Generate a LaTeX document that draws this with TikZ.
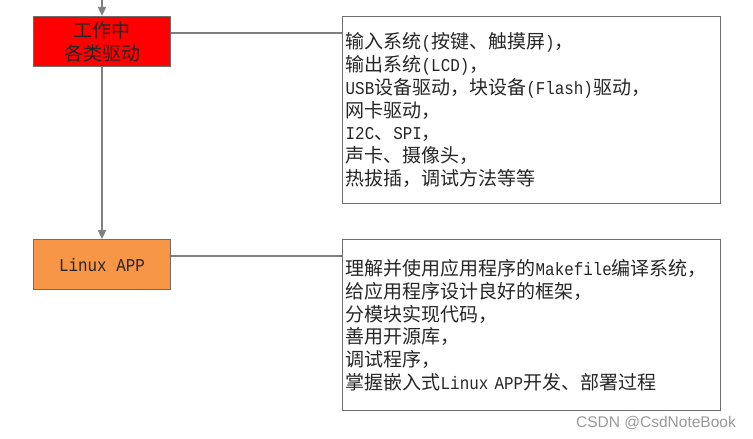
\documentclass[tikz,border=0pt]{standalone}
\usepackage{xcolor}
\usepackage{fontspec}
\setmainfont{Noto Sans CJK SC}
\newfontfamily\lat[Scale=0.95,FakeStretch=0.88]{Liberation Mono}
\newfontfamily\credfont{Liberation Sans}
\usepackage{tikz}
\usetikzlibrary{positioning,arrows.meta}

\definecolor{linegray}{RGB}{128,128,128}
\definecolor{boxgray}{RGB}{110,110,110}
\definecolor{appfill}{RGB}{247,150,70}
\definecolor{drvfill}{RGB}{255,0,0}

\begin{document}
\begin{tikzpicture}[
    x=1pt, y=1pt,
    font=\fontsize{19}{22.8}\selectfont,
    stage/.style={rectangle, draw=boxgray, line width=1.2pt, minimum width=137pt, minimum height=50pt, text centered, align=center, text=black!85},
    detail/.style={rectangle, draw=boxgray, line width=1.2pt, minimum width=378pt, inner xsep=3pt, text width=372pt, align=left, text=black!85},
    flow/.style={->, >={Triangle[width=8pt,length=9pt]}, line width=1.8pt, linegray},
    link/.style={line width=1.3pt, linegray},
    watermark/.style={font=\credfont\fontsize{15.5}{18}\selectfont, text=black!40}
]
    \useasboundingbox (0,0) rectangle (753,-439);

    \node[stage, fill=drvfill] (drivers) at (102,-41.5) {工作中\\各类驱动};
    \node[stage, fill=appfill, below=172pt of drivers] (app) {\lat Linux APP};

    \node[detail, minimum height=187pt, right=171pt of drivers.north east, anchor=north west] (drvlist) {%
        输入系统{\lat(}按键、触摸屏{\lat)}，\\
        输出系统{\lat(LCD)}，\\
        {\lat USB}设备驱动，块设备{\lat(Flash)}驱动，\\
        网卡驱动，\\
        {\lat I2C}、{\lat SPI}，\\
        声卡、摄像头，\\
        热拔插，调试方法等等};
    \node[detail, minimum height=171pt, right=171pt of app.north east, anchor=north west] (applist) {%
        理解并使用应用程序的{\lat Makefile}编译系统，\\
        给应用程序设计良好的框架，\\
        分模块实现代码，\\
        善用开源库，\\
        调试程序，\\
        掌握嵌入式{\lat Linux APP}开发、部署过程};

    \coordinate (entry) at (102,4);
    \draw[flow] (entry) -- (drivers);
    \draw[flow] (drivers) -- (app);

    \draw[link] ([yshift=-17pt]drivers.north east) -- ([yshift=-17pt]drvlist.north west);
    \draw[link] ([yshift=-17pt]app.north east) -- ([yshift=-17pt]applist.north west);

    \node[watermark] (credit) at (656,-423) {CSDN @CsdNoteBook};
\end{tikzpicture}
\end{document}
